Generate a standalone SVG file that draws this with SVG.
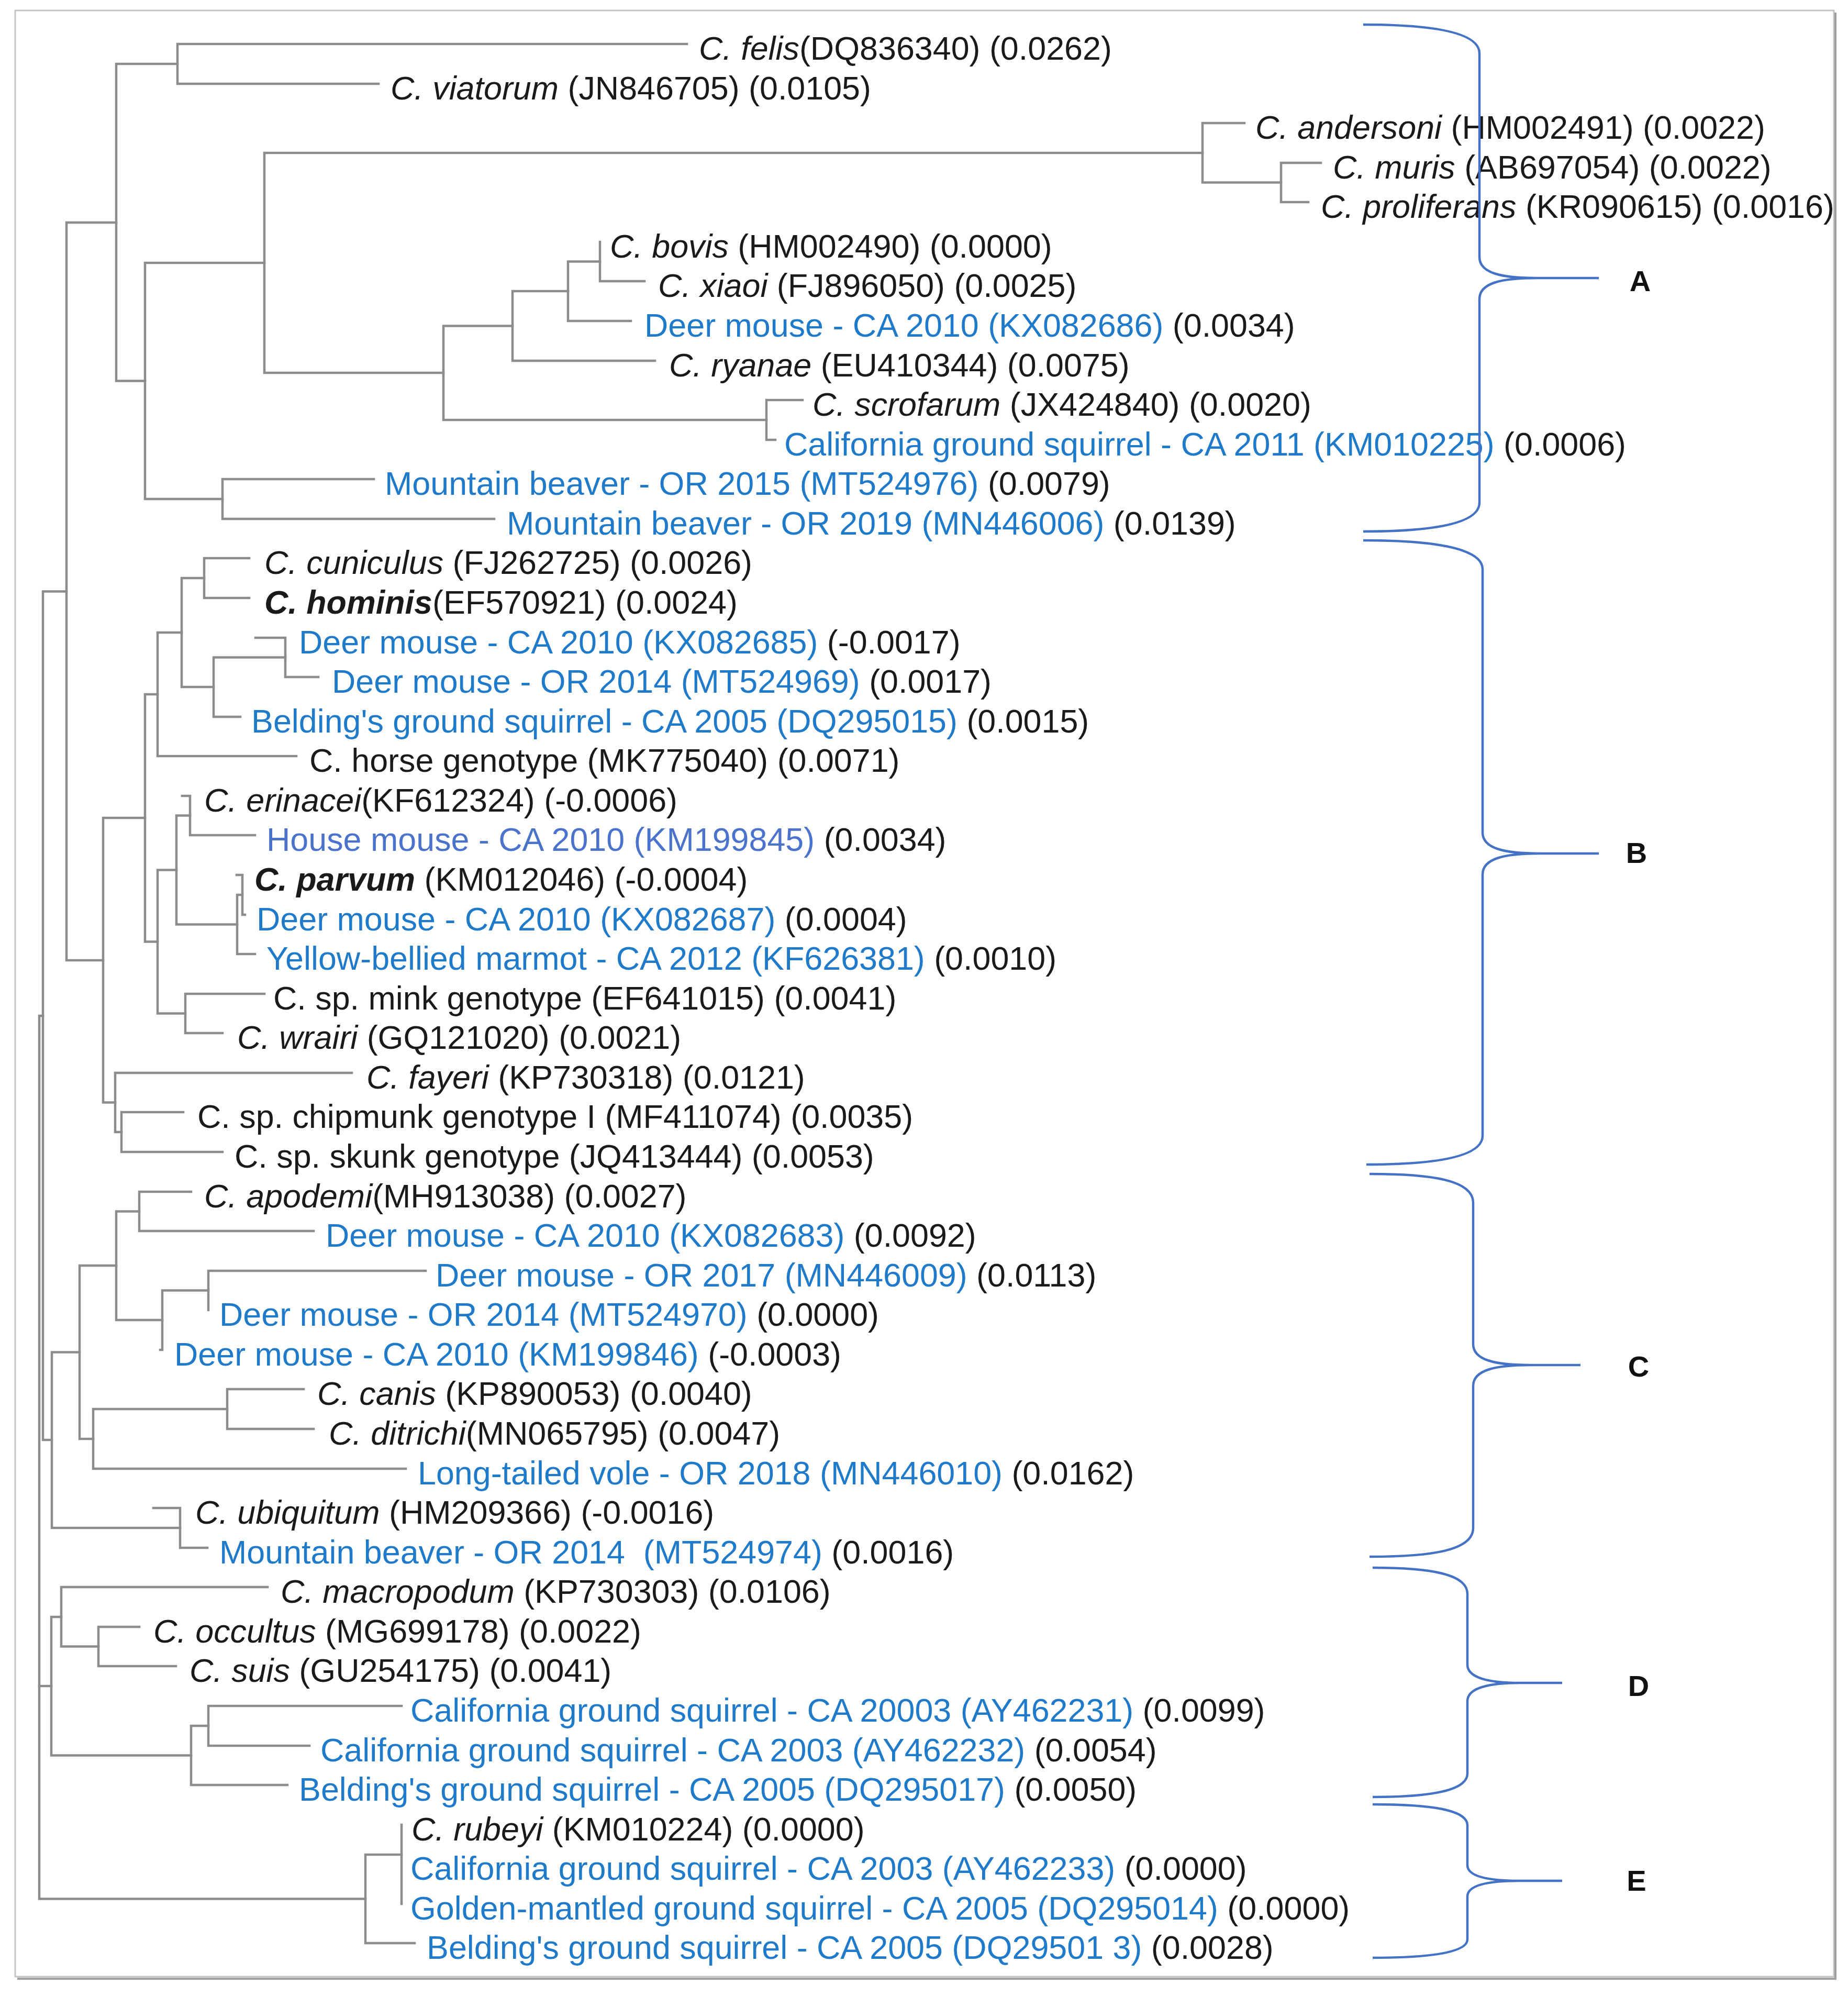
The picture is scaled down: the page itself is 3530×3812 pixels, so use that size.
<svg xmlns="http://www.w3.org/2000/svg" width="3530" height="3812" viewBox="0 0 3530 3812">
<style>
.t{font-family:"Liberation Sans",Arial,sans-serif;font-size:62.8px;fill:#1a1a1a}
.i{font-style:italic}
.b{font-weight:bold}
.bl{fill:#1f7ac9}
.hm{fill:#4b73cc}
.br{fill:none;stroke:#8c8c8c;stroke-width:4.5;stroke-linecap:square;stroke-linejoin:miter}
.brace{fill:none;stroke:#4472c4;stroke-width:4.5}
.lab{font-family:"Liberation Sans",Arial,sans-serif;font-weight:bold;font-size:56px;fill:#111;text-anchor:middle}
</style>
<rect x="0" y="0" width="3530" height="3812" fill="#ffffff"/>
<g id="frame">
<rect x="29" y="20" width="3474" height="3755" fill="none" stroke="#c4c4c4" stroke-width="3"/>
<path d="M3506,24 V3779 H33" fill="none" stroke="#a0a0a0" stroke-width="4"/>
</g>
<g id="connectors" class="br">
<path d="M1312,84 H339 V160 H723"/>
<path d="M339,122 H222 V727.5 H277"/>
<path d="M505,502 H277 V953 H425"/>
<path d="M714,915 H425 V991 H944"/>
<path d="M2297,292 H505 V712 H847"/>
<path d="M2377,235 H2297 V348.5 H2447"/>
<path d="M2523,311 H2447 V386 H2499"/>
<path d="M979,622.5 H847 V802 H1464"/>
<path d="M1085,556 H979 V689 H1251"/>
<path d="M1146,499.5 H1085 V613 H1205"/>
<path d="M1146,462 V537 H1231"/>
<path d="M1533,764 H1464 V840 H1481"/>
<path d="M222,425 H127 V1834 H197"/>
<path d="M127,1129.5 H82 V2750 H99"/>
<path d="M82,1940 H75 V3626.5 H698"/>
<path d="M75,3220 H98"/>
<path d="M277,1562 H197 V2105.5 H220"/>
<path d="M301,1326 H277 V1798.5 H301"/>
<path d="M347,1208 H301 V1444 H566"/>
<path d="M390,1104 H347 V1312 H408"/>
<path d="M476,1066 H390 V1142 H476"/>
<path d="M545,1255.5 H408 V1369 H459"/>
<path d="M488,1218 H545 V1293 H608"/>
<path d="M337,1661.5 H301 V1935.5 H354"/>
<path d="M363,1557.5 H337 V1765.5 H453"/>
<path d="M348,1520 H363 V1595 H487"/>
<path d="M463,1709 H453 V1822 H487"/>
<path d="M452,1671 H463 V1747 H468"/>
<path d="M505,1898 H354 V1973 H425"/>
<path d="M672,2049 H220 V2162 H232"/>
<path d="M350,2124 H232 V2200 H425"/>
<path d="M152,2582.5 H99 V2918 H344"/>
<path d="M222,2417 H152 V2748 H178"/>
<path d="M266,2313.5 H222 V2521 H310"/>
<path d="M365,2276 H266 V2351 H599"/>
<path d="M398,2464.5 H310 V2578 H306"/>
<path d="M813,2427 H398 V2502"/>
<path d="M434,2691 H178 V2805 H775"/>
<path d="M580,2653 H434 V2729 H599"/>
<path d="M293,2880 H344 V2956 H396"/>
<path d="M117,3088 H98 V3352.5 H365"/>
<path d="M511,3031 H117 V3144.5 H188"/>
<path d="M266,3107 H188 V3182 H336"/>
<path d="M398,3296 H365 V3409 H549"/>
<path d="M767,3258 H398 V3334 H591"/>
<path d="M767,3542 H698 V3711 H792"/>
<path d="M767,3485 V3636"/>
</g>
<g id="leaves">
<g id="n-felis"><text class="t" x="1335" y="114"><tspan class="i">C. felis</tspan>(DQ836340) (0.0262)</text></g>
<g id="n-viatorum"><text class="t" x="746" y="190"><tspan class="i">C. viatorum</tspan> (JN846705) (0.0105)</text></g>
<g id="n-andersoni"><text class="t" x="2398" y="265"><tspan class="i">C. andersoni</tspan> (HM002491) (0.0022)</text></g>
<g id="n-muris"><text class="t" x="2546" y="341"><tspan class="i">C. muris</tspan> (AB697054) (0.0022)</text></g>
<g id="n-proliferans"><text class="t" x="2523" y="416"><tspan class="i">C. proliferans</tspan> (KR090615) (0.0016)</text></g>
<g id="n-bovis"><text class="t" x="1165" y="492"><tspan class="i">C. bovis</tspan> (HM002490) (0.0000)</text></g>
<g id="n-xiaoi"><text class="t" x="1257" y="567"><tspan class="i">C. xiaoi</tspan> (FJ896050) (0.0025)</text></g>
<g id="n-KX082686"><text class="t" x="1231" y="643"><tspan class="bl">Deer mouse - CA 2010 (KX082686)</tspan> (0.0034)</text></g>
<g id="n-ryanae"><text class="t" x="1278" y="719"><tspan class="i">C. ryanae</tspan> (EU410344) (0.0075)</text></g>
<g id="n-scrofarum"><text class="t" x="1552" y="794"><tspan class="i">C. scrofarum</tspan> (JX424840) (0.0020)</text></g>
<g id="n-KM010225"><text class="t" x="1498" y="870"><tspan class="bl">California ground squirrel - CA 2011 (KM010225)</tspan> (0.0006)</text></g>
<g id="n-MT524976"><text class="t" x="735" y="945"><tspan class="bl">Mountain beaver - OR 2015 (MT524976)</tspan> (0.0079)</text></g>
<g id="n-MN446006"><text class="t" x="968" y="1021"><tspan class="bl">Mountain beaver - OR 2019 (MN446006)</tspan> (0.0139)</text></g>
<g id="n-cuniculus"><text class="t" x="505" y="1096"><tspan class="i">C. cuniculus</tspan> (FJ262725) (0.0026)</text></g>
<g id="n-hominis"><text class="t" x="505" y="1172"><tspan class="i b">C. hominis</tspan>(EF570921) (0.0024)</text></g>
<g id="n-KX082685"><text class="t" x="571" y="1248"><tspan class="bl">Deer mouse - CA 2010 (KX082685)</tspan> (-0.0017)</text></g>
<g id="n-MT524969"><text class="t" x="634" y="1323"><tspan class="bl">Deer mouse - OR 2014 (MT524969)</tspan> (0.0017)</text></g>
<g id="n-DQ295015"><text class="t" x="480" y="1399"><tspan class="bl">Belding's ground squirrel - CA 2005 (DQ295015)</tspan> (0.0015)</text></g>
<g id="n-horse"><text class="t" x="591" y="1474">C. horse genotype (MK775040) (0.0071)</text></g>
<g id="n-erinacei"><text class="t" x="390" y="1550"><tspan class="i">C. erinacei</tspan>(KF612324) (-0.0006)</text></g>
<g id="n-KM199845"><text class="t" x="509" y="1625"><tspan class="hm">House mouse - CA 2010 (KM199845)</tspan> (0.0034)</text></g>
<g id="n-parvum"><text class="t" x="486" y="1701"><tspan class="i b">C. parvum</tspan> (KM012046) (-0.0004)</text></g>
<g id="n-KX082687"><text class="t" x="490" y="1777"><tspan class="bl">Deer mouse - CA 2010 (KX082687)</tspan> (0.0004)</text></g>
<g id="n-KF626381"><text class="t" x="509" y="1852"><tspan class="bl">Yellow-bellied marmot - CA 2012 (KF626381)</tspan> (0.0010)</text></g>
<g id="n-mink"><text class="t" x="522" y="1928">C. sp. mink genotype (EF641015) (0.0041)</text></g>
<g id="n-wrairi"><text class="t" x="453" y="2003"><tspan class="i">C. wrairi</tspan> (GQ121020) (0.0021)</text></g>
<g id="n-fayeri"><text class="t" x="700" y="2079"><tspan class="i">C. fayeri</tspan> (KP730318) (0.0121)</text></g>
<g id="n-chipmunk"><text class="t" x="377" y="2154">C. sp. chipmunk genotype I (MF411074) (0.0035)</text></g>
<g id="n-skunk"><text class="t" x="448" y="2230">C. sp. skunk genotype (JQ413444) (0.0053)</text></g>
<g id="n-apodemi"><text class="t" x="390" y="2306"><tspan class="i">C. apodemi</tspan>(MH913038) (0.0027)</text></g>
<g id="n-KX082683"><text class="t" x="622" y="2381"><tspan class="bl">Deer mouse - CA 2010 (KX082683)</tspan> (0.0092)</text></g>
<g id="n-MN446009"><text class="t" x="832" y="2457"><tspan class="bl">Deer mouse - OR 2017 (MN446009)</tspan> (0.0113)</text></g>
<g id="n-MT524970"><text class="t" x="419" y="2532"><tspan class="bl">Deer mouse - OR 2014 (MT524970)</tspan> (0.0000)</text></g>
<g id="n-KM199846"><text class="t" x="333" y="2608"><tspan class="bl">Deer mouse - CA 2010 (KM199846)</tspan> (-0.0003)</text></g>
<g id="n-canis"><text class="t" x="606" y="2683"><tspan class="i">C. canis</tspan> (KP890053) (0.0040)</text></g>
<g id="n-ditrichi"><text class="t" x="628" y="2759"><tspan class="i">C. ditrichi</tspan>(MN065795) (0.0047)</text></g>
<g id="n-MN446010"><text class="t" x="798" y="2835"><tspan class="bl">Long-tailed vole - OR 2018 (MN446010)</tspan> (0.0162)</text></g>
<g id="n-ubiquitum"><text class="t" x="373" y="2910"><tspan class="i">C. ubiquitum</tspan> (HM209366) (-0.0016)</text></g>
<g id="n-MT524974"><text class="t" x="419" y="2986" xml:space="preserve"><tspan class="bl">Mountain beaver - OR 2014  (MT524974)</tspan> (0.0016)</text></g>
<g id="n-macropodum"><text class="t" x="536" y="3061"><tspan class="i">C. macropodum</tspan> (KP730303) (0.0106)</text></g>
<g id="n-occultus"><text class="t" x="293" y="3137"><tspan class="i">C. occultus</tspan> (MG699178) (0.0022)</text></g>
<g id="n-suis"><text class="t" x="362" y="3212"><tspan class="i">C. suis</tspan> (GU254175) (0.0041)</text></g>
<g id="n-AY462231"><text class="t" x="784" y="3288"><tspan class="bl">California ground squirrel - CA 20003 (AY462231)</tspan> (0.0099)</text></g>
<g id="n-AY462232"><text class="t" x="612" y="3364"><tspan class="bl">California ground squirrel - CA 2003 (AY462232)</tspan> (0.0054)</text></g>
<g id="n-DQ295017"><text class="t" x="571" y="3439"><tspan class="bl">Belding's ground squirrel - CA 2005 (DQ295017)</tspan> (0.0050)</text></g>
<g id="n-rubeyi"><text class="t" x="786" y="3515"><tspan class="i">C. rubeyi</tspan> (KM010224) (0.0000)</text></g>
<g id="n-AY462233"><text class="t" x="784" y="3590"><tspan class="bl">California ground squirrel - CA 2003 (AY462233)</tspan> (0.0000)</text></g>
<g id="n-DQ295014"><text class="t" x="784" y="3666"><tspan class="bl">Golden-mantled ground squirrel - CA 2005 (DQ295014)</tspan> (0.0000)</text></g>
<g id="n-DQ295013"><text class="t" x="815" y="3741"><tspan class="bl">Belding's ground squirrel - CA 2005 (DQ29501 3)</tspan> (0.0028)</text></g>
</g>
<g id="clades">
<g id="clade-A"><path class="brace" d="M2604,47 C2724,47 2826,59 2826,102 L2826,491 C2826,521 2866,531 2936,531 L3054,531 M2936,531 C2866,531 2826,541 2826,571 L2826,960 C2826,1003 2724,1015 2604,1015"/><text class="lab" x="3133" y="556">A</text></g>
<g id="clade-B"><path class="brace" d="M2604,1032 C2724,1032 2832,1044 2832,1087 L2832,1590 C2832,1620 2872,1630 2942,1630 L3054,1630 M2942,1630 C2872,1630 2832,1640 2832,1670 L2832,2169 C2832,2212 2730,2224 2610,2224"/><text class="lab" x="3126" y="1648">B</text></g>
<g id="clade-C"><path class="brace" d="M2616,2242 C2736,2242 2814,2254 2814,2297 L2814,2567 C2814,2597 2854,2607 2924,2607 L3019,2607 M2924,2607 C2854,2607 2814,2617 2814,2647 L2814,2918 C2814,2961 2736,2973 2616,2973"/><text class="lab" x="3130" y="2629">C</text></g>
<g id="clade-D"><path class="brace" d="M2622,2994 C2732,2994 2803,3006 2803,3044 L2803,3179 C2803,3204 2843,3214 2903,3214 L2984,3214 M2903,3214 C2843,3214 2803,3224 2803,3249 L2803,3387 C2803,3420 2732,3432 2622,3432"/><text class="lab" x="3130" y="3239">D</text></g>
<g id="clade-E"><path class="brace" d="M2622,3446 C2732,3446 2803,3456 2803,3486 L2803,3562 C2803,3584 2843,3592 2903,3592 L2984,3592 M2903,3592 C2843,3592 2803,3600 2803,3622 L2803,3704 C2803,3729 2732,3739 2622,3739"/><text class="lab" x="3126" y="3611">E</text></g>
</g>
</svg>
